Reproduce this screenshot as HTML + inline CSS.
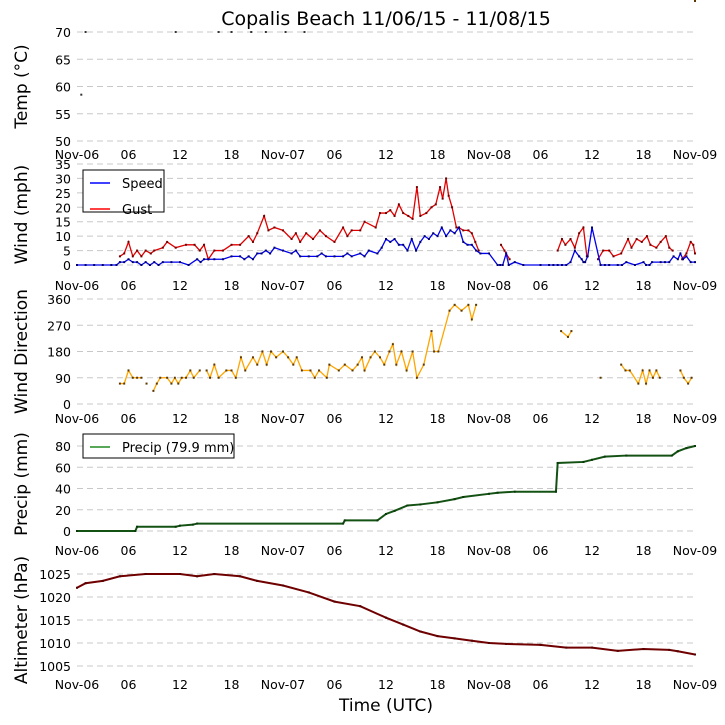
<!DOCTYPE html>
<html><head><meta charset="utf-8"><style>
html,body{margin:0;padding:0;background:#fff;}
svg{display:block;font-family:"DejaVu Sans","Liberation Sans",sans-serif;}
</style></head><body>
<svg id="chart" width="725" height="725" viewBox="0 0 725 725">
<text x="386" y="25" font-size="19" text-anchor="middle">Copalis Beach 11/06/15 - 11/08/15</text>
<text x="386" y="711" font-size="17" text-anchor="middle">Time (UTC)</text>
</svg>
<script>
// ---- data (hours since Nov-06 00:00 UTC) ----
const xTickLabels = ["Nov-06","06","12","18","Nov-07","06","12","18","Nov-08","06","12","18","Nov-09"];
const xTickHours = [0,6,12,18,24,30,36,42,48,54,60,66,72];

const tempHours = [0.5, 1, 11.5, 16.5, 18, 20.3, 22, 24.3, 26.5];
const tempValues = [58.5, 70, 70, 70, 70, 70, 70, 70, 70];

const speedHours = [0,1,2,3,4,4.6,5,5.5,6,6.5,7,7.5,8,8.5,9,9.5,10,11,12,13,14,14.4,14.8,15.3,16,17,18,19,19.5,20,20.5,21,21.5,22,22.5,23,24,25,25.5,26,27,28,28.5,29,30,31,31.5,32,33,33.5,34,35,35.5,36,36.5,37,37.5,38,38.5,39,39.5,40,40.5,41,41.5,42,42.5,43,43.5,44,44.5,45,45.5,46,46.5,47,48,49,49.3,49.6,50,50.3,51,52,54,55,55.5,56,56.5,57,57.5,58,58.5,58.8,59,59.2,59.5,60,61,61.5,62,63,63.5,64,65,66,66.3,66.7,67,68,68.5,69,69.5,70,70.3,70.6,71,71.5,72];
const speedValues = [0,0,0,0,0,0,1,1,2,1,1,0,1,0,1,0,1,1,1,0,2,1,2,2,2,2,3,3,2,3,2,4,4,5,4,6,5,4,5,3,3,3,4,3,3,3,4,3,4,3,5,4,6,9,8,9,7,7,5,9,5,8,10,9,11,10,13,10,12,11,13,8,7,7,5,4,4,0,0,0,4,0,1,0,0,0,0,0,0,0,1,5,3,2,1,1,3,13,0,0,0,0,0,1,0,1,0,0,1,1,1,1,3,2,4,2,3,1,1,3,1,0,3,1,2,3,2];

const gustHours = [5,5.5,6,6.5,7,7.5,8,8.6,9,10,10.5,11.5,12.7,13.7,14.3,14.8,15.3,16,17,18,19,20,20.5,21,21.8,22.3,23,24,25,25.5,26,26.7,27.5,28.3,29,30,31,31.5,32,33,33.5,34.8,35.3,36,36.5,37,37.5,38,38.6,39.1,39.6,40,40.7,41.3,41.8,42.3,42.6,43,43.3,43.7,44.2,44.5,45,45.6,46,46.4,46.8,null,49.4,49.8,50.4,null,56,56.5,56.9,57.5,58,58.5,59,59.4,null,60.7,61.3,62,62.5,63.4,64.2,64.6,65.2,65.8,66.4,66.8,67.5,68,68.6,69,69.4,null,70.5,71,71.5,71.8,72];
const gustValues = [3,4,8,3,5,3,5,4,5,6,8,6,7,7,5,7,2,5,5,7,7,10,8,11,17,12,13,12,9,11,8,11,9,12,10,8,13,10,12,12,15,13,18,18,19,17,21,18,17,16,27,17,18,20,21,27,23,30,24,20,13,13,12,12,11,8,5,null,7,5,2,null,5,9,7,9,6,11,13,3,null,2,5,5,3,4,9,6,9,8,10,7,6,8,10,6,5,null,2,4,8,7,4];

const dirHours = [5,5.5,6,6.5,7,7.5,null,8.1,null,8.9,9.3,9.7,10.5,11,11.4,11.8,12.2,12.7,13.2,13.6,14.3,null,15.1,15.5,16,16.5,17.4,18,18.5,19.1,19.6,20.5,21,21.6,22.1,22.6,23.2,24,24.6,25.2,25.6,26.2,27.2,27.7,28.2,29.1,29.4,30.5,31.2,32.1,32.7,33.2,33.5,34.2,34.7,35.3,35.8,36.4,36.8,37.2,37.8,38.4,39.1,39.6,40.4,41.3,41.6,42.1,43.4,44,44.8,45.6,46,46.5,46.8,null,49.4,null,50.2,null,56.4,57.2,57.6,58.3,null,58.8,null,61,61.3,null,63.4,63.9,64.4,65.4,65.9,66.3,66.7,67.1,67.5,67.9,68.2,null,68.8,null,69.7,null,70.3,70.7,71.2,71.6,72];
const dirValues = [70,70,115,90,90,90,null,70,null,45,70,90,90,70,90,70,90,90,115,90,115,null,115,90,135,90,115,115,90,160,115,160,135,180,135,180,160,180,160,135,160,115,115,90,115,90,135,115,135,115,135,160,115,160,180,160,135,180,205,135,180,115,180,90,135,250,180,180,320,340,320,340,290,340,null,290,null,250,null,205,250,230,250,null,290,null,90,90,null,115,135,115,115,70,115,70,115,90,115,90,null,115,null,320,null,90,115,90,70,90];

const precipHours = [0,6.8,7,11.5,12,13.5,14,31,31.2,35,36,37,38.5,40,42,44,45,48,49,51,55.8,56,59,60,61.5,64,69.3,70,71,72];
const precipValues = [0,0,4,4,5,6,7,7,10,10,16,19,24,25,27,30,32,35,36,37,37,64,65,67,70,71,71,75,78,80];

const altHours = [0,1,3,5,8,12,14,16,19,21,24,27,30,33,36,38,40,42,44,46,48,50,54,57,60,63,66,69,70,72];
const altValues = [1022,1023,1023.5,1024.5,1025,1025,1024.5,1025,1024.5,1023.5,1022.5,1021,1019,1018,1015.5,1014,1012.5,1011.5,1011,1010.5,1010,1009.8,1009.6,1009,1009,1008.3,1008.7,1008.5,1008.2,1007.5];

// ---- layout ----
const X0 = 77, X1 = 695;
const xs = h => X0 + (X1 - X0) * h / 72;
const panels = [
  {name:"temp", label:"Temp (\u00b0C)", min:50, max:70, top:32, bot:141, ticks:[50,55,60,65,70], tickY:159},
  {name:"wind", label:"Wind (mph)", min:0, max:35, top:164, bot:265, ticks:[0,5,10,15,20,25,30,35], tickY:290},
  {name:"direction", label:"Wind Direction", min:0, max:360, top:299, bot:404, ticks:[0,90,180,270,360], tickY:423},
  {name:"precip", label:"Precip (mm)", min:0, max:90, top:437, bot:531, ticks:[0,20,40,60,80], tickY:555},
  {name:"altimeter", label:"Altimeter (hPa)", min:1004, max:1026, top:574, bot:666, ticks:[1005,1010,1015,1020,1025], tickY:689}
];
const NS = "http://www.w3.org/2000/svg";
const svg = document.getElementById("chart");
function mk(tag, attrs, parent){
  const e = document.createElementNS(NS, tag);
  for (const k in attrs) e.setAttribute(k, attrs[k]);
  (parent||svg).appendChild(e); return e;
}
function yScale(p){
  if (p.name === "altimeter") return v => 666 - (v - 1005) * (666-574)/20;
  if (p.name === "precip") return v => 531 - v * (531-446)/80;
  return v => p.bot - (v - p.min) * (p.bot - p.top) / (p.max - p.min);
}
panels.forEach(p => {
  const g = mk("g", {});
  
  
  const ys = yScale(p);
  p.ys = ys;
  p.ticks.forEach(t => {
    const ln = mk("line", {x1:X0, x2:X1, y1:ys(t), y2:ys(t), stroke:"#c8c8c8", "stroke-width":1, "stroke-dasharray":"6,4"}, g);
    
    
    const tx = mk("text", {x:71, y:ys(t)+5, "font-size":12.5, "text-anchor":"end", "textLength":null}, g);
    tx.removeAttribute("textLength");
    tx.textContent = t;
    
    
  });
  xTickHours.forEach((h, i) => {
    const tx = mk("text", {x:xs(h), y:p.tickY, "font-size":12.5, "text-anchor":"middle"}, g);
    tx.textContent = xTickLabels[i];
    
    
  });
  const cy = (p.top + p.bot) / 2;
  const lab = mk("text", {x:0, y:0, "font-size":17, "text-anchor":"middle", transform:"translate(27," + cy + ") rotate(-90)"}, g);
  lab.textContent = p.label;
  
  
});
function series(p, hours, vals, color, mcolor, name, noLine, lw){
  const ys = p.ys;
  let segs = [], cur = [];
  hours.forEach((h, i) => {
    if (h === null || vals[i] === null) { if (cur.length) segs.push(cur); cur = []; return; }
    cur.push([xs(h), ys(vals[i])]);
  });
  if (cur.length) segs.push(cur);
  const g = mk("g", {});
  
  
  segs.forEach(s => {
    if (s.length > 1 && !noLine) {
      let d = "";
      s.forEach((pt, i) => { d += (i === 0 ? "M" : "L") + pt[0] + "," + pt[1]; });
      mk("path", {d:d, fill:"none", stroke:color, "stroke-width":lw||1.3}, g);
    }
    s.forEach(pt => mk("rect", {x:pt[0]-1, y:pt[1]-1, width:2, height:2, fill:mcolor}, g));
  });
}
series(panels[0], tempHours, tempValues, "#000", "#333", "temp-points", true);
series(panels[1], gustHours, gustValues, "#e00000", "#700000", "gust-line", false);
series(panels[1], speedHours, speedValues, "#0000ee", "#000070", "speed-line", false);
series(panels[2], dirHours, dirValues, "#ffa500", "#5a3800", "direction-line", false);
series(panels[3], precipHours, precipValues, "#145214", "#0a3a0a", "precip-line", false, 2);
series(panels[4], altHours, altValues, "#700000", "#500000", "altimeter-line", false, 2);

// legends
function legend(x, y, w, h, items, name){
  const g = mk("g", {});
  
  
  mk("rect", {x:x, y:y, width:w, height:h, fill:"#fff", stroke:"#000", "stroke-width":1}, g);
  items.forEach((it, i) => {
    const ly = y + 13 + i * 26;
    mk("line", {x1:x+7, x2:x+27, y1:ly, y2:ly, stroke:it[1], "stroke-width":1.5}, g);
    const t = mk("text", {x:x+39, y:ly+5, "font-size":13}, g);
    t.textContent = it[0];
    
    
  });
}
legend(83, 170, 81, 42, [["Speed","#0000ff"],["Gust","#ff0000"]], "wind-legend");
legend(83, 434, 151, 24, [["Precip (79.9 mm)","#228b22"]], "precip-legend");
</script>
</body></html>
